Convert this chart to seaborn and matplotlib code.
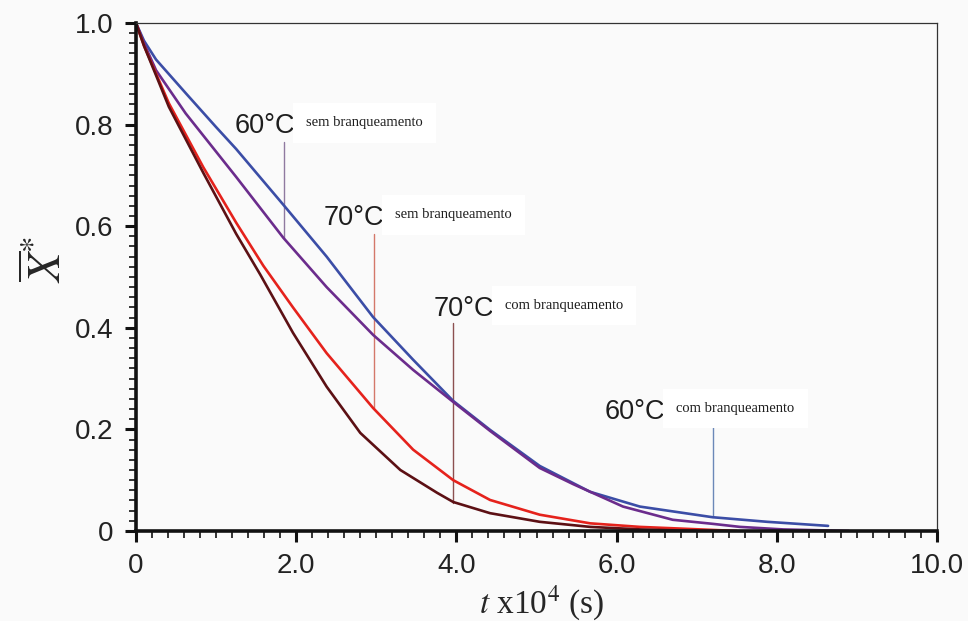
import matplotlib
matplotlib.use("Agg")
import matplotlib.pyplot as plt
from matplotlib.ticker import MultipleLocator, FixedLocator
import seaborn as sns
import pandas as pd

# ---- data ----
t_60_com = [0, 0.1, 0.25, 0.62, 1.0, 1.25, 1.84, 2.38, 2.96, 3.46, 3.96, 4.42, 5.04, 5.67, 6.29, 7.2, 7.88, 8.64]
x_60_com = [1.0, 0.965, 0.928, 0.862, 0.795, 0.752, 0.642, 0.54, 0.421, 0.337, 0.256, 0.199, 0.128, 0.077, 0.048, 0.027, 0.018, 0.010]

t_60_sem = [0, 0.1, 0.25, 0.62, 1.25, 1.84, 2.38, 2.96, 3.46, 3.96, 4.42, 5.04, 5.46, 6.08, 6.7, 7.2, 7.54, 8.08, 8.9]
x_60_sem = [1.0, 0.96, 0.907, 0.822, 0.697, 0.577, 0.48, 0.386, 0.317, 0.254, 0.197, 0.124, 0.092, 0.048, 0.022, 0.014, 0.008, 0.003, 0.0]

t_70_sem = [0, 0.1, 0.41, 0.84, 1.25, 1.59, 1.96, 2.38, 2.96, 3.46, 3.96, 4.42, 5.04, 5.67, 6.29, 6.9, 7.5]
x_70_sem = [1.0, 0.955, 0.842, 0.716, 0.607, 0.522, 0.44, 0.35, 0.242, 0.16, 0.10, 0.061, 0.032, 0.015, 0.008, 0.004, 0.0]

t_70_com = [0, 0.1, 0.41, 0.84, 1.25, 1.55, 1.96, 2.38, 2.8, 3.3, 3.76, 3.96, 4.42, 5.04, 5.67, 6.3, 7.0]
x_70_com = [1.0, 0.955, 0.835, 0.705, 0.585, 0.505, 0.39, 0.284, 0.193, 0.12, 0.075, 0.057, 0.035, 0.018, 0.008, 0.003, 0.0]

series_names = ["60°C com branqueamento", "60°C sem branqueamento",
                "70°C sem branqueamento", "70°C com branqueamento"]

# label annotations
label_temps = ["60°C", "70°C", "70°C", "60°C"]
label_subs = ["sem branqueamento", "sem branqueamento", "com branqueamento", "com branqueamento"]
pointer_x = [1.85, 2.97, 3.96, 7.2]
pointer_y0 = [0.577, 0.242, 0.055, 0.027]
pointer_y1 = [0.765, 0.585, 0.41, 0.248]
text_x = [1.23, 2.34, 3.71, 5.85]
text_y = [0.797, 0.616, 0.437, 0.235]

x_ticks = [0, 2, 4, 6, 8, 10]
x_tick_labels = ["0", "2.0", "4.0", "6.0", "8.0", "10.0"]
y_ticks = [0, 0.2, 0.4, 0.6, 0.8, 1.0]
y_tick_labels = ["0", "0.2", "0.4", "0.6", "0.8", "1.0"]

# ---- build a long-form table ----
frames = []
for name, t, x in zip(series_names, [t_60_com, t_60_sem, t_70_sem, t_70_com],
                      [x_60_com, x_60_sem, x_70_sem, x_70_com]):
    frames.append(pd.DataFrame({"t": t, "X": x, "serie": name}))
df = pd.concat(frames, ignore_index=True)

palette = {
    "60°C com branqueamento": "#3b4da6",
    "60°C sem branqueamento": "#6b2c8c",
    "70°C sem branqueamento": "#e5221c",
    "70°C com branqueamento": "#5c1014",
}
pointer_colors = ["#8f7aa0", "#d4786a", "#8c5050", "#6b88b8"]

sns.set_theme(style="ticks")
plt.rcParams["font.family"] = ["Liberation Sans", "DejaVu Sans"]
plt.rcParams["mathtext.fontset"] = "stix"

fig = plt.figure(figsize=(9.68, 6.21), dpi=100, facecolor="#fafafa")
ax = fig.add_axes([0.1405, 0.145, 0.8275, 0.818])
ax.set_facecolor("#fafafa")

sns.lineplot(data=df, x="t", y="X", hue="serie", palette=palette, sort=False,
             estimator=None, linewidth=1.9, legend=False, ax=ax)

# pointers and labels
for i in range(4):
    ax.plot([pointer_x[i], pointer_x[i]], [pointer_y0[i], pointer_y1[i]],
            color=pointer_colors[i], linewidth=1.0, zorder=1)
    t1 = ax.text(text_x[i], text_y[i], label_temps[i], fontsize=19.5, color="#1e1e1e",
                 va="center", ha="left", family=["Liberation Sans", "DejaVu Sans"])
    ax.annotate(label_subs[i], xy=(1, 0.62), xycoords=t1, xytext=(8, 0),
                textcoords="offset points", fontsize=10.5, va="center", ha="left",
                family=["Liberation Serif", "DejaVu Serif"], color="#1e1e1e",
                bbox=dict(boxstyle="square,pad=0.9", fc="white", ec="none"))

ax.set_xlim(0, 10)
ax.set_ylim(0, 1.0)
ax.xaxis.set_major_locator(FixedLocator(x_ticks))
ax.set_xticklabels(x_tick_labels)
ax.yaxis.set_major_locator(FixedLocator(y_ticks))
ax.set_yticklabels(y_tick_labels)
ax.xaxis.set_minor_locator(MultipleLocator(0.2))
ax.yaxis.set_minor_locator(MultipleLocator(0.02))

ax.tick_params(axis="both", which="major", direction="out", length=8, width=2.2,
               labelsize=20, colors="#111111", pad=8)
ax.tick_params(axis="both", which="minor", direction="out", length=5, width=1.2, colors="#111111")
ax.tick_params(axis="x", which="both", top=False)
ax.tick_params(axis="y", which="both", right=False)
for lab in ax.get_xticklabels() + ax.get_yticklabels():
    lab.set_color("#222222")

for side in ["left", "bottom"]:
    ax.spines[side].set_linewidth(2.6)
    ax.spines[side].set_color("#111111")
for side in ["top", "right"]:
    ax.spines[side].set_visible(True)
    ax.spines[side].set_linewidth(0.9)
    ax.spines[side].set_color("#333333")

ax.set_xlabel(r"$t$ x10$^{4}$ (s)", fontsize=24, family=["Liberation Serif", "DejaVu Serif"])
ax.xaxis.set_label_coords(0.506, -0.104)
ax.set_ylabel(r"$\overline{X}^{*}$", fontsize=34)
ax.yaxis.set_label_coords(-0.08, 0.535)

fig.savefig("out.png", dpi=100, facecolor=fig.get_facecolor())
